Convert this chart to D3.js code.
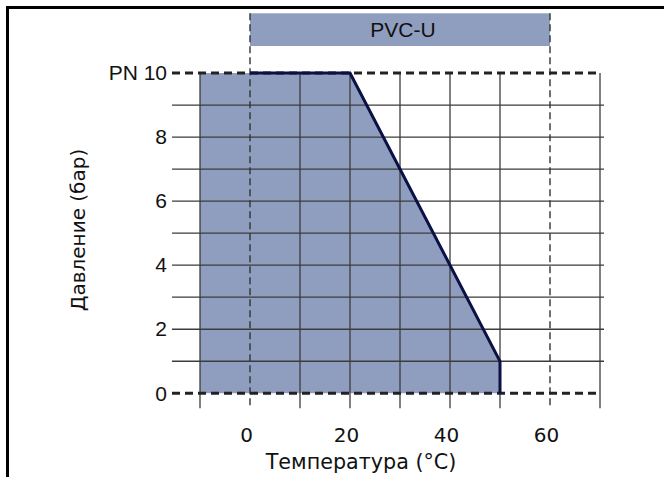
<!DOCTYPE html>
<html><head><meta charset="utf-8">
<script src="https://cdn.jsdelivr.net/npm/d3@7/dist/d3.min.js"></script>
<style>body{margin:0;background:#fff}svg{display:block}</style>
</head><body>
<svg id="c" width="664" height="477"></svg>
<script>
// ---- data ----
const xTickValues = [0, 20, 40, 60];
const xTickLabels = ["0", "20", "40", "60"];
const yTickValues = [0, 2, 4, 6, 8, 10];
const yTickLabels = ["0", "2", "4", "6", "8", "PN 10"];
const gridXSolid = [-10, 10, 20, 30, 40, 50, 70];
const gridXDashed = [0, 60];
const gridYSolid = [1, 2, 3, 4, 5, 6, 7, 8, 9];
const gridYDashed = [0, 10];
const envelopeT = [-10, -10, 20, 50, 50];
const envelopeP = [0, 10, 10, 1, 0];
const curveT = [0, 20, 50, 50];
const curveP = [10, 10, 1, 0];
const bandLabel = "PVC-U";
const bandRange = [0, 60];
const xTitle = "Температура (°C)";
const yTitle = "Давление (бар)";

// ---- chart ----
const svg = d3.select("#c");
const x = d3.scaleLinear().domain([-10, 70]).range([200, 600]);
const y = d3.scaleLinear().domain([0, 10]).range([393.3, 73]);
const fillCol = "#8f9dbf";
const gridCol = "#3c3c3c";

// frame
svg.append("path").attr("d", "M7.5,477 L7.5,7.5 L664,7.5")
  .attr("fill", "none").attr("stroke", "#000").attr("stroke-width", 3);

// band
svg.append("rect").attr("x", x(bandRange[0])).attr("y", 13.3)
  .attr("width", x(bandRange[1]) - x(bandRange[0])).attr("height", 32.7)
  .attr("fill", fillCol);
svg.append("text").attr("x", (x(bandRange[0]) + x(bandRange[1])) / 2 + 3).attr("y", 37)
  .attr("text-anchor", "middle").attr("font-family", "Liberation Sans, Arial, sans-serif")
  .attr("font-size", 21).attr("fill", "#111").text(bandLabel);

// envelope fill
const env = envelopeT.map((t, i) => [x(t), y(envelopeP[i])]);
svg.append("path").attr("d", d3.line()(env) + "Z").attr("fill", fillCol);

// grid
const xl = x.range()[0] - 28, xr = x.range()[1] + 4;
svg.append("g").selectAll("line").data(gridYSolid).join("line")
  .attr("x1", xl).attr("x2", xr).attr("y1", d => y(d)).attr("y2", d => y(d))
  .attr("stroke", gridCol).attr("stroke-width", 1.3);
svg.append("g").selectAll("line").data(gridXSolid).join("line")
  .attr("x1", d => x(d)).attr("x2", d => x(d)).attr("y1", y(10)).attr("y2", y(0) + 15)
  .attr("stroke", gridCol).attr("stroke-width", 1.3);
svg.append("g").selectAll("line").data(gridXDashed).join("line")
  .attr("x1", d => x(d)).attr("x2", d => x(d)).attr("y1", 13.3).attr("y2", y(0) + 15)
  .attr("stroke", "#333").attr("stroke-width", 1.4).attr("stroke-dasharray", "7,4");
svg.append("g").selectAll("line").data(gridYDashed).join("line")
  .attr("x1", xl).attr("x2", x.range()[1] - 3).attr("y1", d => y(d)).attr("y2", d => y(d))
  .attr("stroke", "#222").attr("stroke-width", 3).attr("stroke-dasharray", "8,5");

// curve
const cur = curveT.map((t, i) => [x(t), y(curveP[i])]);
svg.append("path").attr("d", d3.line()(cur)).attr("fill", "none")
  .attr("stroke", "#0b1045").attr("stroke-width", 3).attr("stroke-linejoin", "miter");

// axes labels
const ya = svg.append("g").attr("transform", "translate(167,0)")
  .call(d3.axisLeft(y).tickValues(yTickValues).tickSize(0).tickPadding(0)
    .tickFormat((d, i) => yTickLabels[i]));
ya.select(".domain").remove();
ya.selectAll("text").attr("font-family", "Liberation Sans, Arial, sans-serif")
  .attr("font-size", 21).attr("fill", "#111").attr("dy", "0.32em");

const xa = svg.append("g").attr("transform", "translate(-4,0)")
  .call(d3.axisBottom(x).tickValues(xTickValues).tickSize(0).tickPadding(0)
    .tickFormat((d, i) => xTickLabels[i]));
xa.select(".domain").remove();
xa.selectAll("text").attr("font-family", "DejaVu Sans, Verdana, sans-serif")
  .attr("font-size", 20).attr("fill", "#111").attr("dy", null).attr("y", 442);

svg.append("text").attr("x", 361).attr("y", 469).attr("text-anchor", "middle")
  .attr("font-family", "DejaVu Sans, Verdana, sans-serif").attr("font-size", 20.7)
  .attr("fill", "#111").text(xTitle);
svg.append("text").attr("transform", "translate(85,230) rotate(-90)").attr("text-anchor", "middle")
  .attr("font-family", "DejaVu Sans, Verdana, sans-serif").attr("font-size", 20)
  .attr("fill", "#111").text(yTitle);
</script>
</body></html>
